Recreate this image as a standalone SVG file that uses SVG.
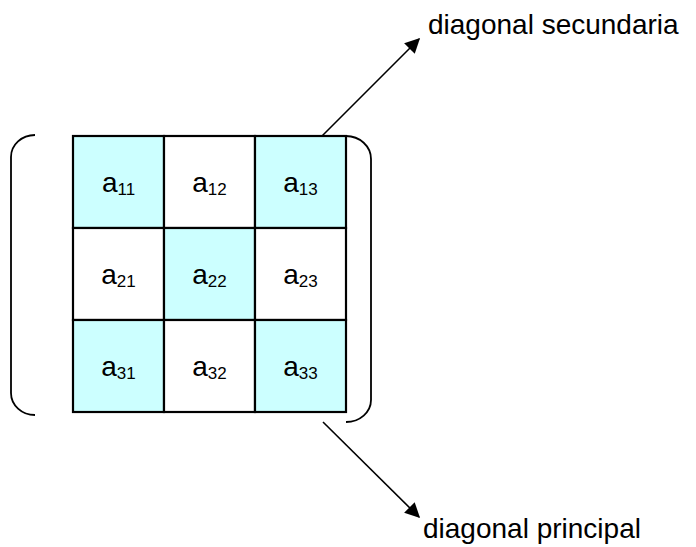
<svg xmlns="http://www.w3.org/2000/svg" width="696" height="547" viewBox="0 0 696 547">
<style>
.cell{stroke:#000;stroke-width:2.2}
.d{fill:#CCFFFF}
.o{fill:#FFFFFF}
.t{font-family:"Liberation Sans",Arial,sans-serif;font-size:28px;fill:#000;text-anchor:middle}
.s{font-size:17px}
.lbl{font-family:"Liberation Sans",Arial,sans-serif;font-size:28px;fill:#000}
.br{fill:none;stroke:#000;stroke-width:1.8}
.ar{fill:none;stroke:#000;stroke-width:1.6}
</style>
<defs>
<marker id="ah" viewBox="0 0 10 10" refX="9" refY="5" markerWidth="20" markerHeight="15" markerUnits="userSpaceOnUse" orient="auto">
<path d="M0,0 L10,5 L0,10 z" fill="#000"/>
</marker>
</defs>
<g id="bracket-left"><path class="br" d="M35,135 A24,22 0 0 0 11,157 L11,393 A24,22 0 0 0 35,415"/></g>
<g id="bracket-right"><path class="br" d="M346,136 A25,23 0 0 1 371,159 L371,400 A25,22 0 0 1 346,422"/></g>
<g id="a11"><rect class="cell d" x="73" y="136" width="91" height="92"/><text class="t" x="118.5" y="192">a<tspan class="s" dy="3">11</tspan></text></g>
<g id="a12"><rect class="cell o" x="164" y="136" width="91" height="92"/><text class="t" x="209.5" y="192">a<tspan class="s" dy="3">12</tspan></text></g>
<g id="a13"><rect class="cell d" x="255" y="136" width="91" height="92"/><text class="t" x="300.5" y="192">a<tspan class="s" dy="3">13</tspan></text></g>
<g id="a21"><rect class="cell o" x="73" y="228" width="91" height="92"/><text class="t" x="118.5" y="284">a<tspan class="s" dy="3">21</tspan></text></g>
<g id="a22"><rect class="cell d" x="164" y="228" width="91" height="92"/><text class="t" x="209.5" y="284">a<tspan class="s" dy="3">22</tspan></text></g>
<g id="a23"><rect class="cell o" x="255" y="228" width="91" height="92"/><text class="t" x="300.5" y="284">a<tspan class="s" dy="3">23</tspan></text></g>
<g id="a31"><rect class="cell d" x="73" y="320" width="91" height="92"/><text class="t" x="118.5" y="376">a<tspan class="s" dy="3">31</tspan></text></g>
<g id="a32"><rect class="cell o" x="164" y="320" width="91" height="92"/><text class="t" x="209.5" y="376">a<tspan class="s" dy="3">32</tspan></text></g>
<g id="a33"><rect class="cell d" x="255" y="320" width="91" height="92"/><text class="t" x="300.5" y="376">a<tspan class="s" dy="3">33</tspan></text></g>
<g id="connectors">
<line class="ar" x1="322" y1="136" x2="419" y2="39" marker-end="url(#ah)"/>
<line class="ar" x1="323" y1="422" x2="419" y2="517" marker-end="url(#ah)"/>
</g>
<g id="label-secundaria"><text class="lbl" x="428" y="34">diagonal secundaria</text></g>
<g id="label-principal"><text class="lbl" x="423" y="538">diagonal principal</text></g>
</svg>
